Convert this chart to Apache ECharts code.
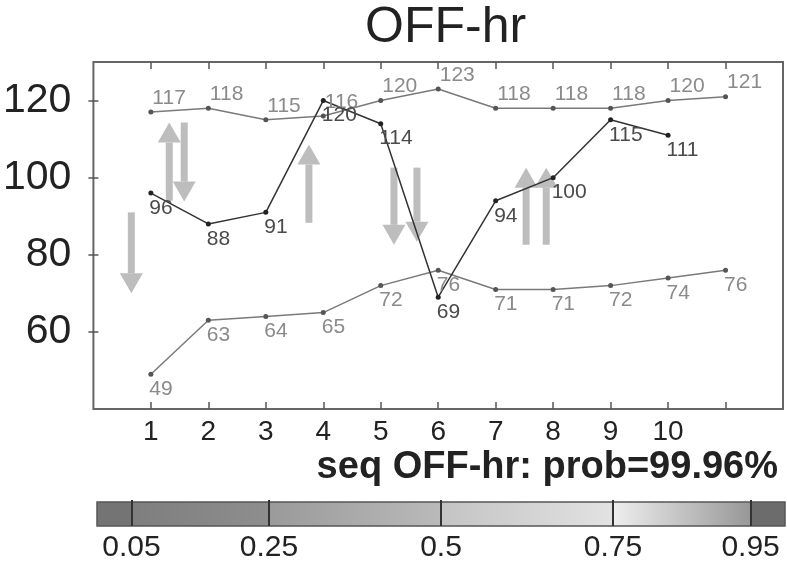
<!DOCTYPE html>
<html>
<head>
<meta charset="utf-8">
<script src="https://cdn.jsdelivr.net/npm/echarts@6/dist/echarts.min.js"></script>
<style>
html,body{margin:0;padding:0;background:#fff;}
#c{width:787px;height:563px;}
</style>
</head>
<body>
<div id="c"></div>
<script>
// ---- data ----
const xValues = [1, 2, 3, 4, 5, 6, 7, 8, 9, 10, 11];
const upperSeries = [117, 118, 115, 116, 120, 123, 118, 118, 118, 120, 121];
const middleSeries = [96, 88, 91, 120, 114, 69, 94, 100, 115, 111];
const lowerSeries = [49, 63, 64, 65, 72, 76, 71, 71, 72, 74, 76];
const xTickLabels = [1, 2, 3, 4, 5, 6, 7, 8, 9, 10];
const yTickLabels = [60, 80, 100, 120];
const arrowX = [0.66, 1.32, 1.58, 3.75, 5.23, 5.63, 7.53, 7.88];
const arrowFrom = [91, 94, 114.3, 88.3, 102.6, 102.6, 82.6, 82.6];
const arrowTo = [70, 114.3, 93.8, 108.6, 82.6, 83.4, 102.6, 102.6];
const colorbarTicks = [0.05, 0.25, 0.5, 0.75, 0.95];
const titleText = 'OFF-hr';
const subText = 'seq OFF-hr: prob=99.96%';

const FONT = "'Liberation Sans', Arial, sans-serif";

const toPairs = arr => arr.map((v, i) => [xValues[i], v]);

const chart = echarts.init(document.getElementById('c'), null, {renderer: 'canvas'});

function lineSeries(name, data, lineColor, dotColor, labelColor, labelAbove) {
  return {
    name: name,
    type: 'line',
    xAxisIndex: 0, yAxisIndex: 0,
    data: toPairs(data),
    symbol: 'circle',
    symbolSize: 5,
    z: 5,
    lineStyle: {color: lineColor, width: 1.5},
    itemStyle: {color: dotColor},
    label: {
      show: true,
      formatter: p => String(p.value[1]),
      position: labelAbove ? [4, -1] : [1, 7],
      align: 'left',
      verticalAlign: labelAbove ? 'bottom' : 'top',
      color: labelColor,
      fontFamily: FONT,
      fontSize: 21
    },
    labelLayout: {hideOverlap: false},
    animation: false
  };
}

const option = {
  animation: false,
  backgroundColor: '#ffffff',
  title: [
    {text: titleText, left: 360, top: -2,
     textStyle: {fontFamily: FONT, fontSize: 50, fontWeight: 'normal', color: '#222'}},
    {text: subText, right: 4, top: 444,
     textStyle: {fontFamily: FONT, fontSize: 38, fontWeight: 'bold', color: '#222'}}
  ],
  grid: [
    {left: 92, right: 4, top: 62, bottom: 154, show: true,
     borderColor: '#666', borderWidth: 2, backgroundColor: '#fff'},
    {left: 97, right: 2, top: 502, height: 26, show: true,
     borderColor: '#555', borderWidth: 1.5,
     backgroundColor: {
       type: 'linear', x: 0, y: 0, x2: 1, y2: 0,
       colorStops: [
         {offset: 0, color: '#747474'}, {offset: 0.05, color: '#747474'},
         {offset: 0.05, color: '#7e7e7e'}, {offset: 0.25, color: '#8e8e8e'},
         {offset: 0.25, color: '#9a9a9a'}, {offset: 0.5, color: '#bababa'},
         {offset: 0.5, color: '#c4c4c4'}, {offset: 0.75, color: '#e2e2e2'},
         {offset: 0.75, color: '#eeeeee'}, {offset: 0.95, color: '#979797'},
         {offset: 0.95, color: '#6c6c6c'}, {offset: 1, color: '#6c6c6c'}
       ]
     }}
  ],
  xAxis: [
    {type: 'value', gridIndex: 0, min: 0, max: 12, position: 'bottom',
     axisLine: {show: false},
     splitLine: {show: false},
     axisTick: {show: true, inside: true, length: 7, customValues: xValues,
                lineStyle: {color: '#555', width: 1.5}},
     axisLabel: {show: true, customValues: xTickLabels, margin: 9,
                 fontFamily: FONT, fontSize: 28, color: '#222'}},
    {type: 'value', gridIndex: 0, min: 0, max: 12, position: 'top',
     axisLine: {show: false},
     splitLine: {show: false},
     axisTick: {show: true, inside: true, length: 7, customValues: xValues,
                lineStyle: {color: '#555', width: 1.5}},
     axisLabel: {show: false}},
    {type: 'value', gridIndex: 1, min: 0, max: 1,
     axisLine: {show: false},
     splitLine: {show: false},
     axisTick: {show: true, inside: true, length: 26, customValues: colorbarTicks,
                lineStyle: {color: '#333', width: 2}},
     axisLabel: {show: true, customValues: colorbarTicks, margin: 7,
                 fontFamily: FONT, fontSize: 30, color: '#222',
                 formatter: v => String(v)}}
  ],
  yAxis: [
    {type: 'value', gridIndex: 0, min: 40, max: 130, position: 'left',
     axisLine: {show: false},
     splitLine: {show: false},
     axisTick: {show: true, inside: true, length: 5, customValues: yTickLabels,
                lineStyle: {color: '#555', width: 1.5}},
     axisLabel: {show: true, customValues: yTickLabels, margin: 22,
                 fontFamily: FONT, fontSize: 41, color: '#222'}},
    {type: 'value', gridIndex: 0, min: 40, max: 130, position: 'right',
     axisLine: {show: false},
     splitLine: {show: false},
     axisTick: {show: true, inside: true, length: 5, customValues: yTickLabels,
                lineStyle: {color: '#555', width: 1.5}},
     axisLabel: {show: false}},
    {type: 'value', gridIndex: 1, min: 0, max: 1, show: false}
  ],
  series: [
    {
      type: 'custom',
      xAxisIndex: 0, yAxisIndex: 0,
      z: 1,
      data: arrowX.map((x, i) => [x, arrowFrom[i], arrowTo[i]]),
      encode: {x: 0, y: [1, 2]},
      renderItem: function (params, api) {
        const x = api.value(0), y1 = api.value(1), y2 = api.value(2);
        const p1 = api.coord([x, y1]);
        const p2 = api.coord([x, y2]);
        const dir = p2[1] > p1[1] ? 1 : -1;
        const headLen = 20, halfW = 11.5, shaftW = 7;
        const baseY = p2[1] - dir * headLen;
        const col = '#bdbdbd';
        return {
          type: 'group',
          children: [
            {type: 'rect',
             shape: {x: p1[0] - shaftW / 2, y: Math.min(p1[1], baseY),
                     width: shaftW, height: Math.abs(baseY - p1[1])},
             style: {fill: col}},
            {type: 'polygon',
             shape: {points: [[p2[0], p2[1]], [p2[0] - halfW, baseY], [p2[0] + halfW, baseY]]},
             style: {fill: col}}
          ]
        };
      }
    },
    lineSeries('upper', upperSeries, '#7a7a7a', '#555', '#8a8a8a', true),
    lineSeries('lower', lowerSeries, '#7a7a7a', '#555', '#8a8a8a', false),
    lineSeries('middle', middleSeries, '#333', '#222', '#4a4a4a', false)
  ]
};

chart.setOption(option);
</script>
</body>
</html>
